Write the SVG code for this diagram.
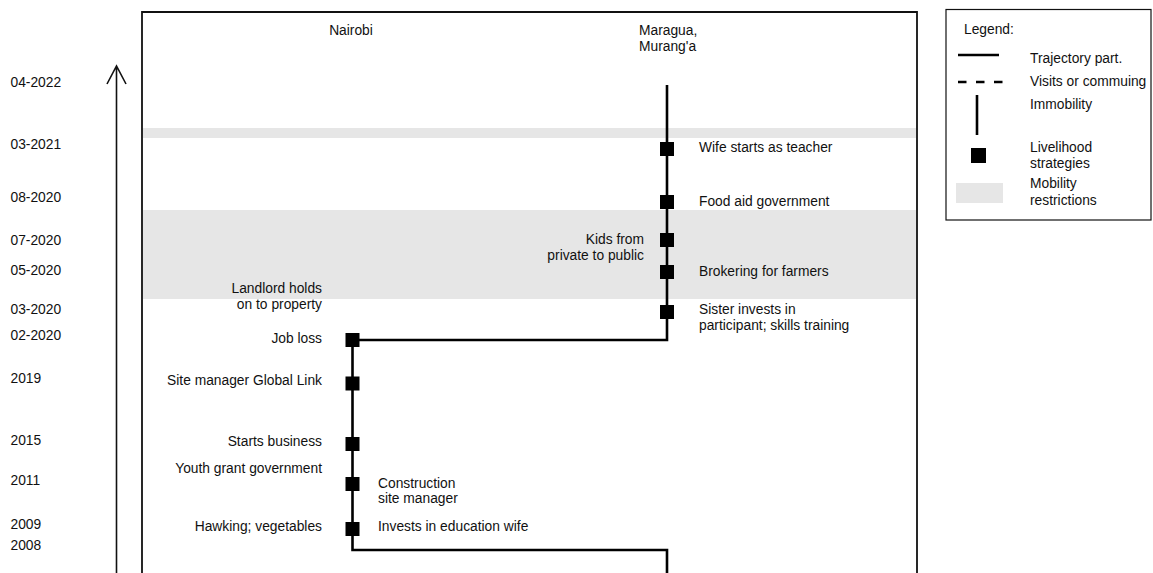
<svg xmlns="http://www.w3.org/2000/svg" width="1153" height="573" viewBox="0 0 1153 573">
  <style>
    text { font-family: "Liberation Sans", Arial, sans-serif; font-size: 13.8px; fill: #111; }
    .r { text-anchor: end; }
    .m { text-anchor: middle; }
    .band { fill: #e6e6e6; }
    .traj { fill: none; stroke: #000; stroke-width: 2.6; stroke-linejoin: miter; }
    .frame { fill: none; stroke: #111; stroke-width: 1.8; }
    .axis { fill: none; stroke: #111; stroke-width: 1.6; }
  </style>
  <defs>
    <rect id="sq" x="-7" y="-7" width="14" height="14" fill="#000"/>
  </defs>

  <rect width="1153" height="573" fill="#fff"/>

  <!-- mobility restriction periods -->
  <g id="restrictions">
    <rect class="band" x="143" y="128" width="773" height="10"/>
    <rect class="band" x="143" y="210" width="773" height="89"/>
  </g>

  <!-- panel frame -->
  <path class="frame" d="M142,575 V12 H917 V575"/>

  <!-- time axis -->
  <g id="time-axis">
    <path class="axis" d="M116.5,575 V66 M107,84 L116.5,66 L126,84"/>
    <text x="10.5" y="87">04-2022</text>
    <text x="10.5" y="149">03-2021</text>
    <text x="10.5" y="202">08-2020</text>
    <text x="10.5" y="245">07-2020</text>
    <text x="10.5" y="275">05-2020</text>
    <text x="10.5" y="314">03-2020</text>
    <text x="10.5" y="340">02-2020</text>
    <text x="10.5" y="383">2019</text>
    <text x="10.5" y="445">2015</text>
    <text x="10.5" y="485">2011</text>
    <text x="10.5" y="529">2009</text>
    <text x="10.5" y="550">2008</text>
  </g>

  <!-- place headers -->
  <g id="place-nairobi"><text class="m" x="351" y="35">Nairobi</text></g>
  <g id="place-maragua">
    <text x="639" y="35">Maragua,</text>
    <text x="639" y="51">Murang'a</text>
  </g>

  <!-- trajectory -->
  <g id="connectors">
    <path class="traj" d="M667,575 V550 H352.5 V340 H667 V85"/>
  </g>

  <!-- livelihood strategies in Nairobi -->
  <g id="n-hawking">
    <use href="#sq" x="352.5" y="529"/>
    <text class="r" x="322" y="531">Hawking; vegetables</text>
    <text x="378" y="531">Invests in education wife</text>
  </g>
  <g id="n-construction">
    <use href="#sq" x="352.5" y="484"/>
    <text class="r" x="322" y="473">Youth grant government</text>
    <text x="378" y="488">Construction</text>
    <text x="378" y="503">site manager</text>
  </g>
  <g id="n-business">
    <use href="#sq" x="352.5" y="444"/>
    <text class="r" x="322" y="446">Starts business</text>
  </g>
  <g id="n-globallink">
    <use href="#sq" x="352.5" y="383.5"/>
    <text class="r" x="322" y="385">Site manager Global Link</text>
  </g>
  <g id="n-jobloss">
    <use href="#sq" x="352.5" y="340"/>
    <text class="r" x="322" y="343">Job loss</text>
    <text class="r" x="322" y="293">Landlord holds</text>
    <text class="r" x="322" y="309">on to property</text>
  </g>

  <!-- livelihood strategies in Maragua -->
  <g id="m-sister">
    <use href="#sq" x="667" y="312"/>
    <text x="699" y="314">Sister invests in</text>
    <text x="699" y="330">participant; skills training</text>
  </g>
  <g id="m-brokering">
    <use href="#sq" x="667" y="272"/>
    <text x="699" y="276">Brokering for farmers</text>
  </g>
  <g id="m-kids">
    <use href="#sq" x="667" y="240"/>
    <text class="r" x="644" y="244">Kids from</text>
    <text class="r" x="644" y="260">private to public</text>
  </g>
  <g id="m-foodaid">
    <use href="#sq" x="667" y="202"/>
    <text x="699" y="206">Food aid government</text>
  </g>
  <g id="m-wife">
    <use href="#sq" x="667" y="149"/>
    <text x="699" y="152">Wife starts as teacher</text>
  </g>

  <!-- legend -->
  <g id="legend">
    <rect x="946" y="9.5" width="205" height="210.5" fill="#fff" stroke="#111" stroke-width="1.2"/>
    <text x="964" y="34">Legend:</text>
    <line x1="958" y1="55" x2="999" y2="55" stroke="#000" stroke-width="2.6"/>
    <text x="1030" y="63">Trajectory part.</text>
    <line x1="958" y1="82" x2="1003" y2="82" stroke="#000" stroke-width="2.6" stroke-dasharray="8.5 9.5"/>
    <text x="1030" y="86">Visits or commuing</text>
    <line x1="977" y1="95" x2="977" y2="135" stroke="#000" stroke-width="2.6"/>
    <text x="1030" y="109">Immobility</text>
    <rect x="971" y="148" width="15" height="15" fill="#000"/>
    <text x="1030" y="152">Livelihood</text>
    <text x="1030" y="168">strategies</text>
    <rect class="band" x="956" y="183" width="47" height="20"/>
    <text x="1030" y="188">Mobility</text>
    <text x="1030" y="205">restrictions</text>
  </g>
</svg>
